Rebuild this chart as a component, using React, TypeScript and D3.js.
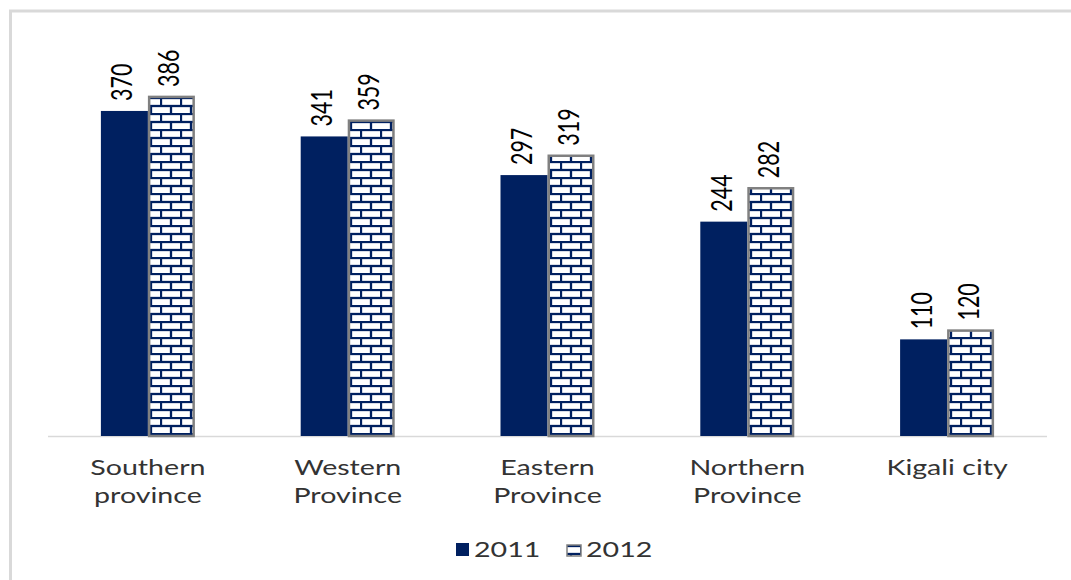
import React from "react";
import * as d3 from "d3";

const categories = ["Southern province", "Western Province", "Eastern Province", "Northern Province", "Kigali city"];
const categoryLines = [["Southern", "province"], ["Western", "Province"], ["Eastern", "Province"], ["Northern", "Province"], ["Kigali city"]];
const seriesNames = ["2011", "2012"];
const values2011 = [370, 341, 297, 244, 110];
const values2012 = [386, 359, 319, 282, 120];

const W = 1071;
const H = 580;
const NAVY = "#002060";
const SX = 1.3;
const FONT = "Lato, 'Open Sans', sans-serif";

export default function App() {
  const x0 = d3.scaleBand<string>().domain(categories).range([48, 1047]);
  const groupW = 94;
  const x1 = d3.scaleBand<string>().domain(seriesNames).range([0, groupW]);
  const y = d3.scaleLinear().domain([0, 400]).range([436, 436 - 351.4]);
  const base = y(0);

  const series = [values2011, values2012];

  return (
    <svg width={W} height={H} style={{ position: "absolute", left: 0, top: 0, background: "#fff" }}>
      <defs>
        <pattern id="brick" patternUnits="userSpaceOnUse" width={20} height={16} x={0} y={1}>
          <rect width={20} height={16} fill="#fff" />
          <line x1={0} x2={20} y1={1} y2={1} stroke={NAVY} strokeWidth={2.3} />
          <line x1={0} x2={20} y1={9} y2={9} stroke={NAVY} strokeWidth={2.3} />
          <line x1={1} x2={1} y1={1} y2={9} stroke={NAVY} strokeWidth={2.3} />
          <line x1={11} x2={11} y1={9} y2={17} stroke={NAVY} strokeWidth={2.3} />
        </pattern>
      </defs>
      <rect x={0} y={0} width={W} height={H} fill="#fff" />
      <rect x={10.5} y={11} width={1200} height={700} fill="none" stroke="#d9d9d9" strokeWidth={3} />
      <line x1={48} x2={1047} y1={base + 0.5} y2={base + 0.5} stroke="#d9d9d9" strokeWidth={1.5} />

      {categories.map((c, i) => {
        const gx = (x0(c) as number) + (x0.bandwidth() - groupW) / 2;
        return (
          <g key={c}>
            {seriesNames.map((s, j) => {
              const v = series[j][i];
              const bx = gx + (x1(s) as number);
              const bw = x1.bandwidth();
              const top = y(v);
              const cx = bx + bw / 2;
              return (
                <g key={s}>
                  {j === 0 ? (
                    <rect x={bx} y={top} width={bw} height={base - top} fill={NAVY} />
                  ) : (
                    <rect x={bx + 1.25} y={top} width={bw - 2.5} height={base - top} fill="url(#brick)" stroke="#808080" strokeWidth={2.5} />
                  )}
                  <text
                    transform={`translate(${cx + 8},${top - 10}) scale(${SX},1) rotate(-90)`}
                    fontFamily={FONT}
                    fontSize={21.5}
                    fill="#000"
                    textAnchor="start"
                  >
                    {v}
                  </text>
                </g>
              );
            })}
            {categoryLines[i].map((ln, k) => (
              <text
                key={k}
                transform={`translate(${(x0(c) as number) + x0.bandwidth() / 2},${475 + k * 28}) scale(${SX},1)`}
                fontFamily={FONT}
                fontSize={22}
                fill="#333"
                textAnchor="middle"
              >
                {ln}
              </text>
            ))}
          </g>
        );
      })}

      <g>
        <rect x={456} y={543} width={13} height={13} fill={NAVY} />
        <text transform={`translate(474,557) scale(${SX},1)`} fontFamily={FONT} fontSize={22} fill="#333">
          {seriesNames[0]}
        </text>
        <rect x={567} y={545} width={14} height={11} fill="url(#brick)" stroke="#808080" strokeWidth={1.5} />
        <text transform={`translate(586,557) scale(${SX},1)`} fontFamily={FONT} fontSize={22} fill="#333">
          {seriesNames[1]}
        </text>
      </g>
    </svg>
  );
}
